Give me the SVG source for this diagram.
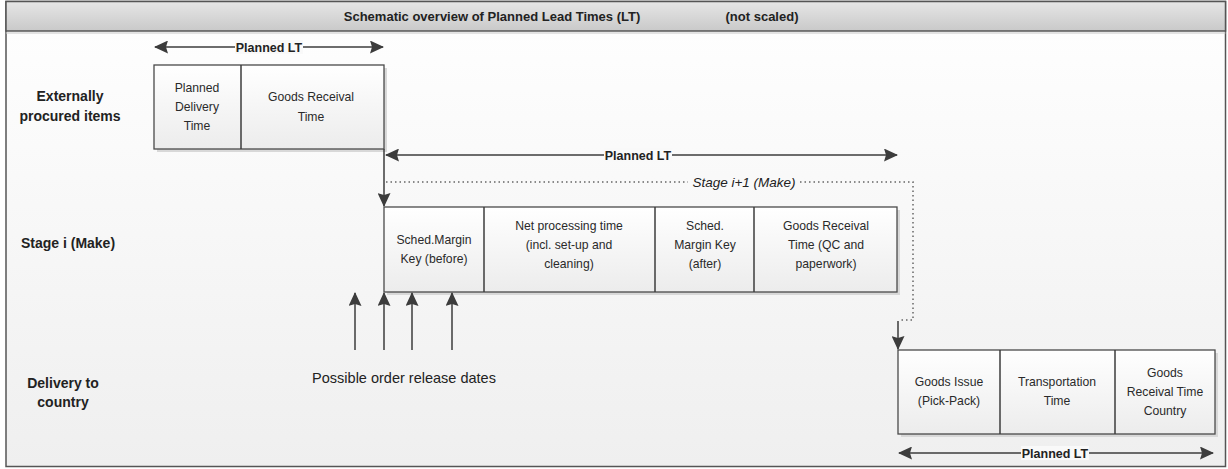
<svg xmlns="http://www.w3.org/2000/svg" width="1228" height="469" viewBox="0 0 1228 469">
  <defs>
    <linearGradient id="bg" x1="0" y1="0" x2="0" y2="1">
      <stop offset="0" stop-color="#ffffff"/>
      <stop offset="1" stop-color="#efefef"/>
    </linearGradient>
    <linearGradient id="hdr" x1="0" y1="0" x2="0" y2="1">
      <stop offset="0" stop-color="#e6e6e6"/>
      <stop offset="1" stop-color="#c9c9c9"/>
    </linearGradient>
    <linearGradient id="cell" x1="0" y1="0" x2="0" y2="1">
      <stop offset="0" stop-color="#ffffff"/>
      <stop offset="1" stop-color="#ececec"/>
    </linearGradient>
    <marker id="ah" viewBox="0 0 14 13" refX="13" refY="6.5" markerWidth="14" markerHeight="13" markerUnits="userSpaceOnUse" orient="auto-start-reverse">
      <path d="M0,0 L14,6.5 L0,13 L2,6.5 Z" fill="#3c3c3c"/>
    </marker>
  </defs>
  <style>
    text { font-family: "Liberation Sans", Arial, sans-serif; fill: #222; }
    .t { font-size: 12.2px; text-anchor: middle; fill: #2a2a2a; }
    .b { font-size: 12.5px; font-weight: bold; text-anchor: middle; }
    .h { font-size: 13px; font-weight: bold; text-anchor: middle; }
    .row { font-size: 14px; font-weight: bold; text-anchor: middle; }
    .it { font-size: 13.5px; font-style: italic; text-anchor: middle; }
    .note { font-size: 14.5px; text-anchor: middle; }
    .cell { fill: url(#cell); stroke: #4a4a4a; stroke-width: 1.3; }
    .sh { fill: #d8d8d8; }
    .ln { stroke: #3c3c3c; stroke-width: 1.5; fill: none; }
    .dot { stroke: #666; stroke-width: 1.5; stroke-dasharray: 1.5 3; fill: none; }
    .lbbg { fill: #f9f9f9; }
  </style>

  <!-- frame and header -->
  <rect x="6" y="1.5" width="1219.5" height="465" fill="url(#bg)" stroke="#555" stroke-width="1.5"/>
  <rect x="6" y="1.5" width="1219.5" height="29.5" fill="url(#hdr)" stroke="#555" stroke-width="1.5"/>
  <line x1="6" y1="33" x2="1225.5" y2="33" stroke="#c8c8c8" stroke-width="1"/>
  <text class="h" x="492" y="21">Schematic overview of Planned Lead Times (LT)</text>
  <text class="h" x="762" y="21">(not scaled)</text>

  <!-- row labels -->
  <g id="row-labels">
    <text class="row" x="70" y="101">Externally</text>
    <text class="row" x="70" y="121">procured items</text>
    <text class="row" x="68" y="248">Stage i (Make)</text>
    <text class="row" x="63" y="388">Delivery to</text>
    <text class="row" x="63" y="407">country</text>
  </g>

  <!-- externally procured items -->
  <g id="node-external">
    <rect class="sh" x="157" y="68" width="230" height="84"/>
    <rect class="cell" x="154" y="65" width="230" height="84"/>
    <line class="ln" x1="241" y1="65" x2="241" y2="149"/>
    <text class="t" x="197" y="92">Planned</text>
    <text class="t" x="197" y="111">Delivery</text>
    <text class="t" x="197" y="130">Time</text>
    <text class="t" x="311" y="101">Goods Receival</text>
    <text class="t" x="311" y="121">Time</text>
  </g>

  <!-- stage i (make) -->
  <g id="node-stage">
    <rect class="sh" x="387" y="210" width="513" height="85"/>
    <rect class="cell" x="384" y="207" width="513" height="85"/>
    <line class="ln" x1="484" y1="207" x2="484" y2="292"/>
    <line class="ln" x1="655" y1="207" x2="655" y2="292"/>
    <line class="ln" x1="754" y1="207" x2="754" y2="292"/>
    <text class="t" x="434" y="244">Sched.Margin</text>
    <text class="t" x="434" y="263">Key (before)</text>
    <text class="t" x="569" y="230">Net processing time</text>
    <text class="t" x="569" y="249">(incl. set-up and</text>
    <text class="t" x="569" y="268">cleaning)</text>
    <text class="t" x="705" y="230">Sched.</text>
    <text class="t" x="705" y="249">Margin Key</text>
    <text class="t" x="705" y="268">(after)</text>
    <text class="t" x="826" y="230">Goods Receival</text>
    <text class="t" x="826" y="249">Time (QC and</text>
    <text class="t" x="826" y="268">paperwork)</text>
  </g>

  <!-- delivery to country -->
  <g id="node-delivery">
    <rect class="sh" x="901" y="353" width="317" height="84"/>
    <rect class="cell" x="898" y="350" width="317" height="84"/>
    <line class="ln" x1="1000" y1="350" x2="1000" y2="434"/>
    <line class="ln" x1="1115" y1="350" x2="1115" y2="434"/>
    <text class="t" x="949" y="386">Goods Issue</text>
    <text class="t" x="949" y="405">(Pick-Pack)</text>
    <text class="t" x="1057" y="386">Transportation</text>
    <text class="t" x="1057" y="405">Time</text>
    <text class="t" x="1165" y="377">Goods</text>
    <text class="t" x="1165" y="396">Receival Time</text>
    <text class="t" x="1165" y="415">Country</text>
  </g>

  <!-- connectors -->
  <g id="connectors">
    <!-- planned lead time spans -->
    <line class="ln" x1="155" y1="47" x2="383" y2="47" marker-start="url(#ah)" marker-end="url(#ah)"/>
    <line class="ln" x1="386" y1="155" x2="897" y2="155" marker-start="url(#ah)" marker-end="url(#ah)"/>
    <line class="ln" x1="899" y1="453" x2="1213" y2="453" marker-start="url(#ah)" marker-end="url(#ah)"/>
    <!-- handover external -> stage i -->
    <line class="ln" x1="384" y1="149" x2="384" y2="206" marker-end="url(#ah)"/>
    <!-- stage i+1 loop -->
    <path class="dot" d="M386,182 H913 V320 H899"/>
    <line class="ln" x1="898" y1="321" x2="898" y2="349" marker-end="url(#ah)"/>
    <!-- possible order release dates -->
    <line class="ln" x1="355" y1="350" x2="355" y2="293" marker-end="url(#ah)"/>
    <line class="ln" x1="384" y1="350" x2="384" y2="293" marker-end="url(#ah)"/>
    <line class="ln" x1="412" y1="350" x2="412" y2="293" marker-end="url(#ah)"/>
    <line class="ln" x1="452" y1="350" x2="452" y2="293" marker-end="url(#ah)"/>
  </g>

  <!-- connector labels -->
  <g id="connector-labels">
    <rect class="lbbg" x="235" y="40" width="68" height="14"/>
    <text class="b" x="269" y="52">Planned LT</text>
    <rect class="lbbg" x="604" y="148" width="68" height="14"/>
    <text class="b" x="638" y="160">Planned LT</text>
    <rect class="lbbg" x="1021" y="446" width="68" height="14"/>
    <text class="b" x="1055" y="458">Planned LT</text>
    <rect class="lbbg" x="688" y="175" width="112" height="14"/>
    <text class="it" x="744" y="187">Stage i+1 (Make)</text>
    <text class="note" x="404" y="383">Possible order release dates</text>
  </g>
</svg>
